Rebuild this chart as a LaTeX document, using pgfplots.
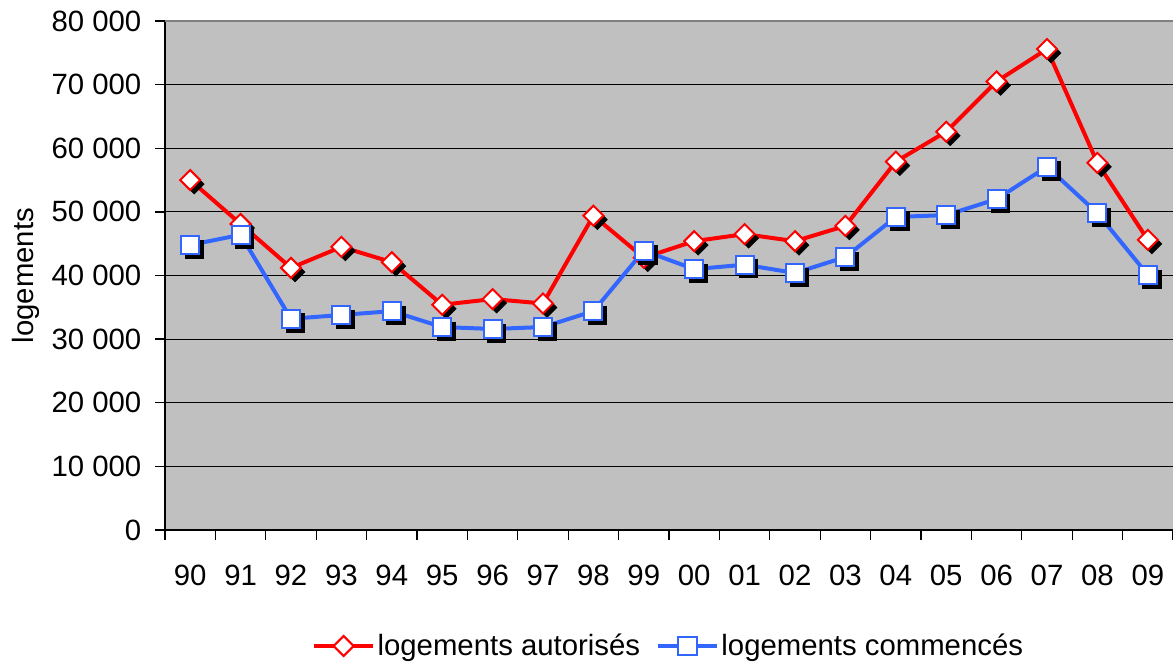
\documentclass[border=0pt]{standalone}
\usepackage{fontspec}
\setmainfont{Liberation Sans}
\usepackage{pgfplots}
\pgfplotsset{compat=1.18}
\definecolor{myred}{RGB}{255,0,0}
\definecolor{myblue}{RGB}{51,102,255}
\definecolor{bg}{RGB}{192,192,192}
\newcommand{\bigf}{\fontsize{22}{26}\selectfont}
\begin{document}
\begin{tikzpicture}
\begin{axis}[
  scale only axis,
  width=756pt, height=381.75pt,
  xmin=0, xmax=20, ymin=0, ymax=80000,
  scaled y ticks=false,
  axis background/.style={fill=bg},
  axis x line*=bottom, axis y line*=left,
  axis line style={black, line width=1pt},
  xtick={0.5,1.5,...,19.5},
  xticklabels={90,91,92,93,94,95,96,97,98,99,00,01,02,03,04,05,06,07,08,09},
  minor xtick={0,1,...,20},
  major x tick style={draw=none},
  minor x tick style={black, line width=1pt},
  minor tick length=7.5pt,
  ytick={0,10000,...,80000},
  yticklabels={0,10 000,20 000,30 000,40 000,50 000,60 000,70 000,80 000},
  major tick length=7.5pt,
  tick align=outside,
  major y tick style={black, line width=1pt},
  ymajorgrids, xmajorgrids=false,
  major grid style={black, line width=0.75pt},
  tick label style={font=\bigf},
  xticklabel style={yshift=-15pt},
  yticklabel style={xshift=-6.75pt},
  ylabel={logements},
  ylabel style={font=\bigf, yshift=2pt},
  legend columns=2,
  legend style={draw=none, fill=none, font=\bigf, at={(0.5,0)}, anchor=center, yshift=-87pt,
    /tikz/every even column/.append style={column sep=10pt}},
  legend image code/.code={\draw[mark repeat=2,mark phase=2,#1] plot coordinates {(0pt,0pt) (22pt,0pt) (44pt,0pt)};},
  clip=false,
]
\addplot[forget plot, only marks, mark=square*, mark size=5.3pt, mark options={xshift=3pt, yshift=-3pt, rotate=45, draw=black, fill=black}]
coordinates {(0.5,55000)(1.5,48100)(2.5,41200)(3.5,44500)(4.5,42100)(5.5,35400)(6.5,36300)(7.5,35600)(8.5,49400)(9.5,42800)(10.5,45400)(11.5,46500)(12.5,45400)(13.5,47800)(14.5,57900)(15.5,62600)(16.5,70500)(17.5,75600)(18.5,57700)(19.5,45600)};
\addplot[myred, line width=3pt, mark=square*, mark size=5.3pt, mark options={rotate=45, draw=myred, fill=white, line width=1.5pt}]
coordinates {(0.5,55000)(1.5,48100)(2.5,41200)(3.5,44500)(4.5,42100)(5.5,35400)(6.5,36300)(7.5,35600)(8.5,49400)(9.5,42800)(10.5,45400)(11.5,46500)(12.5,45400)(13.5,47800)(14.5,57900)(15.5,62600)(16.5,70500)(17.5,75600)(18.5,57700)(19.5,45600)};
\addlegendentry{logements autorisés}
\addplot[forget plot, only marks, mark=square*, mark size=6.8pt, mark options={xshift=3pt, yshift=-3pt, draw=black, fill=black}]
coordinates {(0.5,44800)(1.5,46400)(2.5,33200)(3.5,33800)(4.5,34400)(5.5,31900)(6.5,31600)(7.5,31900)(8.5,34400)(9.5,43900)(10.5,41000)(11.5,41700)(12.5,40400)(13.5,42900)(14.5,49200)(15.5,49500)(16.5,52000)(17.5,57100)(18.5,49800)(19.5,40100)};
\addplot[myblue, line width=3pt, mark=square*, mark size=6.8pt, mark options={draw=myblue, fill=white, line width=1.5pt}]
coordinates {(0.5,44800)(1.5,46400)(2.5,33200)(3.5,33800)(4.5,34400)(5.5,31900)(6.5,31600)(7.5,31900)(8.5,34400)(9.5,43900)(10.5,41000)(11.5,41700)(12.5,40400)(13.5,42900)(14.5,49200)(15.5,49500)(16.5,52000)(17.5,57100)(18.5,49800)(19.5,40100)};
\addlegendentry{logements commencés}
\draw[gray, line width=1pt] (rel axis cs:0,1) -- (rel axis cs:1,1);
\coordinate (pa) at (rel axis cs:0,0);
\end{axis}
\pgfresetboundingbox
\path[use as bounding box] ([xshift=-123.75pt,yshift=-99pt]pa) rectangle ([xshift=756pt,yshift=397.5pt]pa);
\end{tikzpicture}
\end{document}
